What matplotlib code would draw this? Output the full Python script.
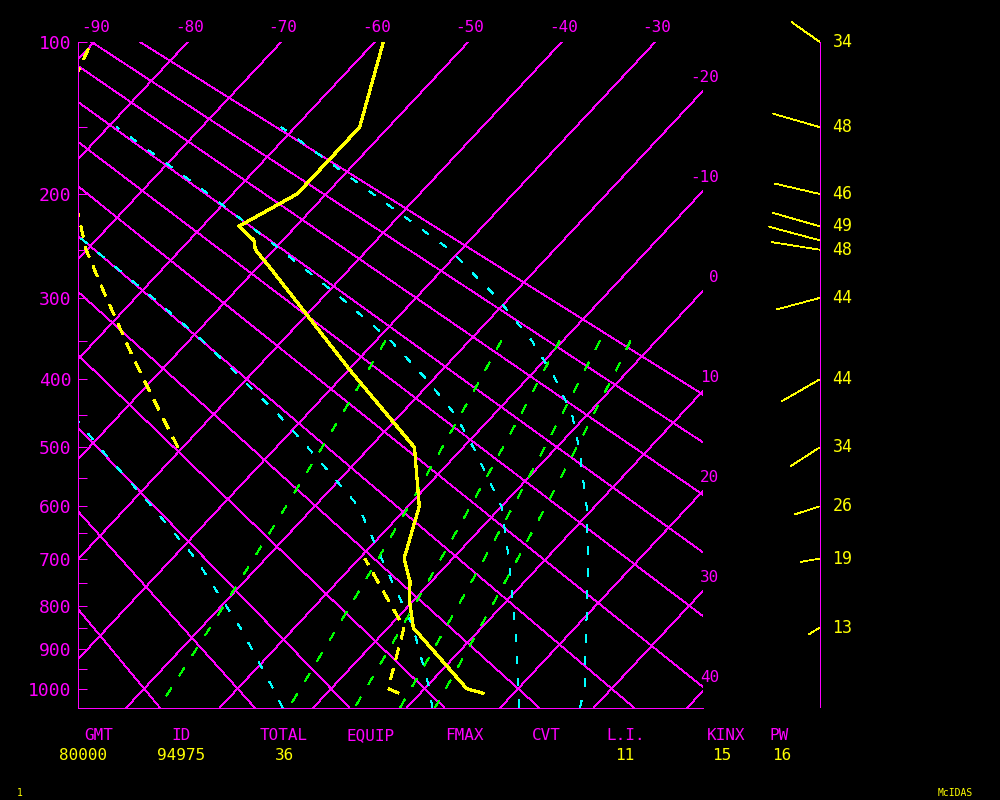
"""
McIDAS-style skew-T sounding, station 94975.
Skewed temperature axis, pressure axis in p**kappa, wind column on the right.
"""

import numpy as np
import matplotlib
matplotlib.use("Agg")
import matplotlib.pyplot as plt
import matplotlib.transforms as mtransforms
from matplotlib.ticker import FixedLocator, NullFormatter

# ── McIDAS palette ───────────────────────────────────────────────────────────
BG    = "#000000"
MAG   = "#ff00ff"
YEL   = "#ffff00"
CYAN  = "#00ffff"
GREEN = "#00ff00"
PX    = 72 / 100            # points per pixel at dpi=100
THIN  = 0.75 * PX
FONT  = "DejaVu Sans Mono"

plt.rcParams.update({
    "lines.antialiased": False,
    "patch.antialiased": False,
    "lines.scale_dashes": False,
    "font.family": FONT,
})

# ── sounding ─────────────────────────────────────────────────────────────────
TEMP_P = [1012, 1000, 850, 793, 747, 700, 600, 500, 460, 387, 268, 250, 241, 228, 200, 150, 100]
TEMP_C = [16.7, 14.5, 2.7, -0.2, -2.3, -5.2, -8.8, -15.2, -20.1, -29.9, -48.6, -52.0, -53.1,
          -56.1, -53.1, -53.1, -59.1]

DEWP_P = [1012, 1000, 850, 700, np.nan, 500, 425, 371, 291, 250, 200, 150, 100]
DEWP_C = [7.7, 6.1, 1.7, -9.4, np.nan, -40.5, -48.2, -54.3, -64.3, -70.1, -77.0, -86.0, -90.3]

# winds: direction (deg, from), speed, label shown beside the column
WIND_P   = [100, 150, 200, 228, 241, 250, 300, 400, 500, 600, 700, 850]
WIND_DIR = [305, 286, 283, 286, 285, 279, 255, 240, 237, 252, 260, 238]
WIND_SPD = [34, 48, 46, 49, 52, 48, 44, 44, 34, 26, 19, 13]
WIND_LBL = ["34", "48", "46", "49", "", "48", "44", "44", "34", "26", "19", "13"]

# ── background grid ──────────────────────────────────────────────────────────
ISOTHERMS  = [-90, -80, -70, -60, -50, -40, -30, -20, -10, 0, 10, 20, 30, 40]
DRY_THETA  = [-20, -10, 0, 10, 20, 30, 40, 50, 60, 70, 80, 90]   # degC at 1000 hPa
MIX_RATIO  = [1, 3, 5, 7, 9]                                     # g/kg
PRES_MAJOR = [100, 200, 300, 400, 500, 600, 700, 800, 900, 1000]
PRES_MINOR = [150, 250, 350, 450, 550, 650, 750, 850, 950]

# saturated adiabats as drawn (degC read at each level)
MOIST_P  = [1050, 1000, 850, 700, 600, 500, 450, 400, 350, 300, 250, 200, 150]
MOIST_T1 = [-3.3, -6.2, -15.8, -27.5, -37.4, -48.9, -55.0, -62.4, np.nan, np.nan, np.nan, np.nan, np.nan]
MOIST_T2 = [12.7, 10.5, 2.7, -7.6, -15.3, -26.6, -33.0, -40.4, -48.5, -58.1, -69.2, -81.9, np.nan]
MOIST_T3 = [22.0, 20.0, 13.6, 6.0, 0.0, -8.9, -14.1, -20.7, -28.4, -38.0, -49.3, -62.6, -79.1]
MOIST_T4 = [28.5, 27.1, 21.2, 14.5, 9.1, 2.4, -1.6, -6.9, -13.3, -21.3, -31.2, -45.0, -61.5]

# ── footer ───────────────────────────────────────────────────────────────────
STAT_NAMES  = ["GMT", "ID", "TOTAL", "EQUIP", "FMAX", "CVT", "L.I.", "KINX", "PW"]
STAT_VALUES = ["80000", "94975", "36", "", "", "", "11", "15", "16"]
STAT_XPIX   = [99, 181, 284, 371, 464, 546, 626, 726, 779]
VALUE_XPIX  = [83, 181, 285, 371, 464, 546, 625, 722, 782]

KAPPA = 0.286
P_TOP, P_BOT = 100, 1050
SKEW = 0.935                      # px right per px up
L_PX, R_PX, T_PX, B_PX = 77.5, 703, 41.7, 707.5
T_LEFT = (L_PX - 375) / 9.35 - 60
T_RIGHT = (R_PX - 375) / 9.35 - 60
WIND_X = 819.5


def p_fwd(p):
    p = np.asarray(p, dtype=float)
    return np.sign(p) * np.abs(p) ** KAPPA


def p_inv(v):
    v = np.asarray(v, dtype=float)
    return np.sign(v) * np.abs(v) ** (1 / KAPPA)


fig = plt.figure(figsize=(10, 8), dpi=100, facecolor=BG)
ax = fig.add_axes([L_PX / 1000, 1 - B_PX / 800, (R_PX - L_PX) / 1000, (B_PX - T_PX) / 800])
ax.set_facecolor(BG)
ax.set_yscale("function", functions=(p_fwd, p_inv))
ax.set_ylim(P_BOT, P_TOP)
ax.set_xlim(T_LEFT, T_RIGHT)
ax.set_autoscale_on(False)

y_top = ax.bbox.y1
skew = mtransforms.Affine2D(np.array([[1, SKEW, -SKEW * y_top], [0, 1, 0], [0, 0, 1]]))
sk = ax.transData + skew

pp = np.linspace(P_TOP, P_BOT, 200)

# isotherms + labels
x1 = ax.bbox.x1
for t in ISOTHERMS:
    ax.plot([t, t], [P_TOP, P_BOT], color=MAG, lw=THIN, transform=sk)
    xt, yt = sk.transform((t, P_TOP))
    if xt <= x1 + 0.5:
        lx, ly = xt + 16, yt + 14
    else:
        lx, ly = x1 + 16, yt - (xt - x1) / SKEW + 13.5
    ax.text(lx, ly, f"{t}", color=MAG, fontsize=11.5, ha="right", va="center",
            transform=mtransforms.IdentityTransform())

# dry adiabats
for th in DRY_THETA:
    tt = (th + 273.15) * (pp / 1000) ** KAPPA - 273.15
    ax.plot(tt, pp, color=MAG, lw=THIN, transform=sk)

# saturated adiabats
for tm in (MOIST_T1, MOIST_T2, MOIST_T3, MOIST_T4):
    ax.plot(tm, MOIST_P, color=CYAN, lw=THIN, ls=(0, (8 * PX, 15 * PX)), transform=sk)

# mixing-ratio lines
pm = np.linspace(350, P_BOT, 100)
for w in MIX_RATIO:
    rs = w / 1000
    es = rs * pm / (0.622 + rs)
    lg = np.log(es / 6.112)
    tt = 243.5 * lg / (17.67 - lg)
    ax.plot(tt, pm, color=GREEN, lw=THIN, ls=(0, (10 * PX, 14 * PX)), transform=sk)

# temperature and dewpoint
ax.plot(TEMP_C, TEMP_P, color=YEL, lw=2.2 * PX, transform=sk)
ax.plot(DEWP_C, DEWP_P, color=YEL, lw=2.2 * PX, ls=(0, (11 * PX, 10 * PX)), transform=sk)

# frame and pressure ticks
for side in ("top", "right"):
    ax.spines[side].set_visible(False)
for side in ("left", "bottom"):
    ax.spines[side].set_color(MAG)
    ax.spines[side].set_linewidth(PX)
ax.set_xticks([])
ax.yaxis.set_major_locator(FixedLocator(PRES_MAJOR))
ax.set_yticklabels([str(p) for p in PRES_MAJOR])
ax.yaxis.set_minor_locator(FixedLocator(PRES_MINOR))
ax.yaxis.set_minor_formatter(NullFormatter())
ax.tick_params(axis="y", which="both", direction="in", length=9 * PX, width=PX,
               color=MAG, labelcolor=MAG, labelsize=13, pad=4.3)

# wind column
ax2 = fig.add_axes([(WIND_X - 10) / 1000, 1 - B_PX / 800, 20 / 1000, (B_PX - T_PX) / 800])
ax2.set_yscale("function", functions=(p_fwd, p_inv))
ax2.set_ylim(P_BOT, P_TOP)
ax2.set_xlim(-1, 1)
ax2.axis("off")
ax2.axvline(0, color=MAG, lw=PX)
for p, d, s, lbl in zip(WIND_P, WIND_DIR, WIND_SPD, WIND_LBL):
    dx = s * np.sin(np.radians(d))
    dy = s * np.cos(np.radians(d))
    ax2.annotate("", xy=(0, p), xytext=(dx, dy), textcoords="offset pixels",
                 annotation_clip=False,
                 arrowprops=dict(arrowstyle="-", color=YEL, lw=THIN, shrinkA=0, shrinkB=0))
    if lbl:
        ax2.annotate(lbl, xy=(0, p), xytext=(13, 0), textcoords="offset pixels",
                     annotation_clip=False, ha="left", va="center", color=YEL, fontsize=12)

# footer
for name, val, xn, xv in zip(STAT_NAMES, STAT_VALUES, STAT_XPIX, VALUE_XPIX):
    fig.text(xn / 1000, 1 - 740 / 800, name, color=MAG, fontsize=11.5, ha="center", va="baseline")
    if val:
        fig.text(xv / 1000, 1 - 760 / 800, val, color=YEL, fontsize=11.5, ha="center", va="baseline")
fig.text(17 / 1000, 1 - 793 / 800, "1", color=YEL, fontsize=7, ha="left", va="center")
fig.text(955 / 1000, 1 - 793 / 800, "McIDAS", color=YEL, fontsize=7, ha="center", va="center")

fig.savefig("out.png", dpi=100, facecolor=BG)
